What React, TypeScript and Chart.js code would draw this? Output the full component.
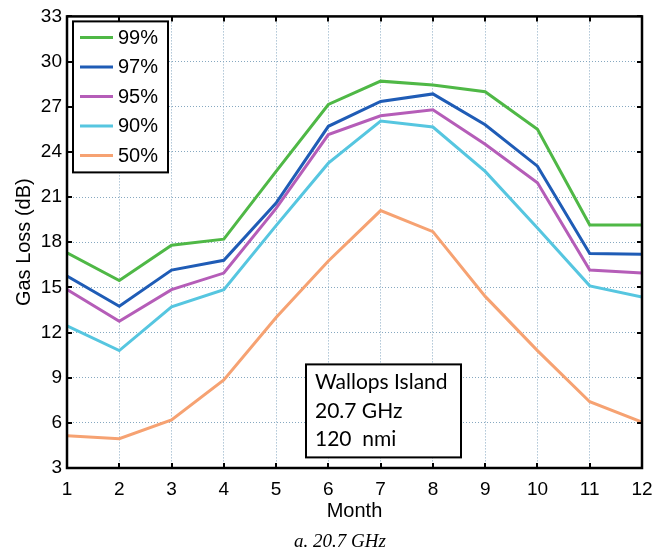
import React, { useEffect, useRef } from 'react';
import { Chart, registerables } from 'chart.js';

Chart.register(...registerables);

// ---- data ----
const months = [1, 2, 3, 4, 5, 6, 7, 8, 9, 10, 11, 12];
const seriesLabels = ['99%', '97%', '95%', '90%', '50%'];
const p99 = [17.3, 15.45, 17.8, 18.2, 22.7, 27.15, 28.7, 28.45, 28.0, 25.5, 19.15, 19.15];
const p97 = [15.75, 13.75, 16.15, 16.8, 20.6, 25.7, 27.35, 27.85, 25.8, 23.05, 17.25, 17.2];
const p95 = [14.85, 12.75, 14.85, 15.95, 20.25, 25.15, 26.4, 26.8, 24.5, 21.95, 16.15, 15.95];
const p90 = [12.45, 10.8, 13.7, 14.85, 19.1, 23.25, 26.05, 25.65, 22.7, 18.95, 15.1, 14.35];
const p50 = [5.15, 4.95, 6.2, 8.85, 13.0, 16.75, 20.1, 18.7, 14.4, 10.8, 7.4, 6.05];
const seriesValues = [p99, p97, p95, p90, p50];
const seriesColors = ['#4fb846', '#1f5cb6', '#b55db8', '#56c6e0', '#f6a272'];
const yMin = 3;
const yMax = 33;
const yStep = 3;
const xTitle = 'Month';
const yTitle = 'Gas Loss (dB)';
const annotationLines = ['Wallops Island', '20.7 GHz', '120  nmi'];
const caption = 'a. 20.7 GHz';

const SANS = '"Liberation Sans", Arial, Helvetica, sans-serif';

const framePlugin = {
  id: 'frameTicks',
  afterDatasetsDraw(chart: any) {
    const { ctx, chartArea: a, scales } = chart;
    ctx.save();
    // inward tick marks on all four sides
    ctx.strokeStyle = '#000';
    ctx.lineWidth = 2;
    const tl = 5;
    ctx.beginPath();
    for (const m of months) {
      const px = Math.round(scales.x.getPixelForValue(m));
      ctx.moveTo(px, a.bottom);
      ctx.lineTo(px, a.bottom - tl);
      ctx.moveTo(px, a.top);
      ctx.lineTo(px, a.top + tl);
    }
    for (let v = yMin; v <= yMax; v += yStep) {
      const py = Math.round(scales.y.getPixelForValue(v));
      ctx.moveTo(a.left, py);
      ctx.lineTo(a.left + tl, py);
      ctx.moveTo(a.right, py);
      ctx.lineTo(a.right - tl, py);
    }
    ctx.stroke();
    // frame
    ctx.lineWidth = 2.5;
    ctx.strokeRect(a.left, a.top, a.right - a.left, a.bottom - a.top);

    // legend box (top-left inside plot)
    const lx = a.left + 6;
    const ly = a.top + 5;
    const lw = 95;
    const lh = 151;
    ctx.fillStyle = '#fff';
    ctx.fillRect(lx, ly, lw, lh);
    ctx.lineWidth = 2;
    ctx.strokeRect(lx, ly, lw, lh);
    ctx.font = '20px ' + SANS;
    ctx.textBaseline = 'middle';
    ctx.textAlign = 'left';
    chart.data.datasets.forEach((ds: any, i: number) => {
      const yy = ly + 16 + i * 29.5;
      ctx.strokeStyle = ds.borderColor;
      ctx.lineWidth = 3;
      ctx.beginPath();
      ctx.moveTo(lx + 7, yy);
      ctx.lineTo(lx + 40, yy);
      ctx.stroke();
      ctx.fillStyle = '#000';
      ctx.fillText(ds.label, lx + 45, yy + 1);
    });

    // annotation box
    const bx = a.left + 239;
    const by = a.top + 348;
    const bw = 155;
    const bh = 93;
    ctx.fillStyle = '#fff';
    ctx.fillRect(bx, by, bw, bh);
    ctx.strokeStyle = '#000';
    ctx.lineWidth = 2;
    ctx.strokeRect(bx, by, bw, bh);
    ctx.fillStyle = '#000';
    ctx.font = '21px Lato, "Open Sans", sans-serif';
    ctx.textBaseline = 'alphabetic';
    annotationLines.forEach((t, i) => {
      ctx.fillText(t, bx + 9, by + 25 + i * 28.5);
    });

    ctx.restore();
  },
  afterDraw(chart: any) {
    const { ctx } = chart;
    ctx.save();
    ctx.fillStyle = '#000';
    ctx.font = 'italic 19px "Liberation Serif", "Times New Roman", serif';
    ctx.textAlign = 'center';
    ctx.textBaseline = 'middle';
    ctx.fillText(caption, 340, 542);
    ctx.restore();
  },
};

export default function App() {
  const canvasRef = useRef<HTMLCanvasElement | null>(null);

  useEffect(() => {
    if (!canvasRef.current) return;
    const chart = new Chart(canvasRef.current, {
      type: 'line',
      data: {
        datasets: seriesLabels.map((label, i) => ({
          label,
          data: months.map((m, j) => ({ x: m, y: seriesValues[i][j] })),
          borderColor: seriesColors[i],
          backgroundColor: seriesColors[i],
          borderWidth: 3,
          pointRadius: 0,
          tension: 0,
          fill: false,
        })),
      },
      options: {
        animation: false,
        responsive: true,
        maintainAspectRatio: false,
        layout: { padding: { top: 14, right: 27, left: 0, bottom: 32 } },
        plugins: {
          legend: { display: false },
          tooltip: { enabled: false },
          title: { display: false },
        },
        scales: {
          x: {
            type: 'linear',
            min: 1,
            max: 12,
            afterFit: (s: any) => {
              s.height = 55;
            },
            ticks: {
              stepSize: 1,
              color: '#000',
              padding: 10,
              font: { family: SANS, size: 19 },
            },
            grid: { color: '#86a8c0', lineWidth: 1, drawTicks: false },
            border: { display: false, dash: [1, 2] },
            title: {
              display: true,
              text: xTitle,
              color: '#000',
              padding: 0,
              font: { family: SANS, size: 20 },
            },
          },
          y: {
            min: yMin,
            max: yMax,
            afterFit: (s: any) => {
              s.width = 67;
            },
            ticks: {
              stepSize: yStep,
              color: '#000',
              padding: 5,
              font: { family: SANS, size: 19 },
            },
            grid: { color: '#86a8c0', lineWidth: 1, drawTicks: false },
            border: { display: false, dash: [1, 2] },
            title: {
              display: true,
              text: yTitle,
              color: '#000',
              padding: { top: 12, bottom: 0 },
              font: { family: SANS, size: 20 },
            },
          },
        },
      },
      plugins: [framePlugin],
    });
    return () => chart.destroy();
  }, []);

  return (
    <div style={{ position: 'fixed', left: 0, top: 0, width: 669, height: 555, background: '#fff' }}>
      <canvas ref={canvasRef} />
    </div>
  );
}
